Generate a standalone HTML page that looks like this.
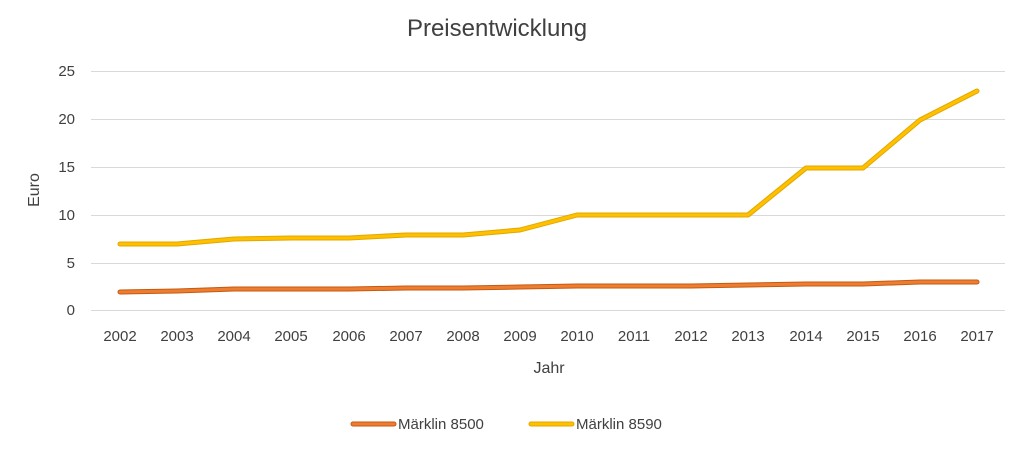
<!DOCTYPE html>
<html><head><meta charset="utf-8"><style>
body{margin:0;background:#fff;}
svg text{font-family:"Liberation Sans",sans-serif;fill:#404040;}
</style></head><body>
<svg width="1024" height="449" viewBox="0 0 1024 449">
<rect width="1024" height="449" fill="#fff"/>
<text x="497" y="36" font-size="24" text-anchor="middle" fill="#404040">Preisentwicklung</text>
<g stroke="#d9d9d9" stroke-width="1">
<line x1="91" x2="1005" y1="71.5" y2="71.5"/>
<line x1="91" x2="1005" y1="119.5" y2="119.5"/>
<line x1="91" x2="1005" y1="167.5" y2="167.5"/>
<line x1="91" x2="1005" y1="215.5" y2="215.5"/>
<line x1="91" x2="1005" y1="263.5" y2="263.5"/>
<line x1="91" x2="1005" y1="310.5" y2="310.5"/>
</g>
<g font-size="15" text-anchor="end">
<text x="75" y="76">25</text><text x="75" y="124">20</text><text x="75" y="172">15</text>
<text x="75" y="220">10</text><text x="75" y="268">5</text><text x="75" y="315">0</text>
</g>
<g font-size="15" text-anchor="middle">
<text x="120" y="341">2002</text><text x="177" y="341">2003</text><text x="234" y="341">2004</text><text x="291" y="341">2005</text>
<text x="349" y="341">2006</text><text x="406" y="341">2007</text><text x="463" y="341">2008</text><text x="520" y="341">2009</text>
<text x="577" y="341">2010</text><text x="634" y="341">2011</text><text x="691" y="341">2012</text><text x="748" y="341">2013</text>
<text x="806" y="341">2014</text><text x="863" y="341">2015</text><text x="920" y="341">2016</text><text x="977" y="341">2017</text>
</g>
<text x="549" y="373" font-size="16" text-anchor="middle">Jahr</text>
<text x="39" y="190" font-size="16" text-anchor="middle" transform="rotate(-90 39 190)">Euro</text>
<g fill="none" stroke-linejoin="round" stroke-linecap="round" transform="translate(0,1)">
<polyline stroke="#c55a11" stroke-width="5" points="120,291 177,290 234,288 291,288 349,288 406,287 463,287 520,286 577,285 634,285 691,285 748,284 806,283 863,283 920,281 977,281"/>
<polyline stroke="#ED7D31" stroke-width="3" points="120,291 177,290 234,288 291,288 349,288 406,287 463,287 520,286 577,285 634,285 691,285 748,284 806,283 863,283 920,281 977,281"/>
<polyline stroke="#e0a800" stroke-width="5" points="120,243 177,243 234,238 291,237 349,237 406,234 463,234 520,229 577,214 634,214 691,214 748,214 806,167 863,167 920,119 977,90"/>
<polyline stroke="#FFC000" stroke-width="3" points="120,243 177,243 234,238 291,237 349,237 406,234 463,234 520,229 577,214 634,214 691,214 748,214 806,167 863,167 920,119 977,90"/>
</g>
<g fill="none" stroke-linecap="round">
<line x1="353" x2="394" y1="424" y2="424" stroke="#c55a11" stroke-width="5"/>
<line x1="353" x2="394" y1="424" y2="424" stroke="#ED7D31" stroke-width="3"/>
<line x1="531" x2="572" y1="424" y2="424" stroke="#e0a800" stroke-width="5"/>
<line x1="531" x2="572" y1="424" y2="424" stroke="#FFC000" stroke-width="3"/>
</g>
<text x="398" y="429" font-size="15">Märklin 8500</text>
<text x="576" y="429" font-size="15">Märklin 8590</text>
</svg>
</body></html>
